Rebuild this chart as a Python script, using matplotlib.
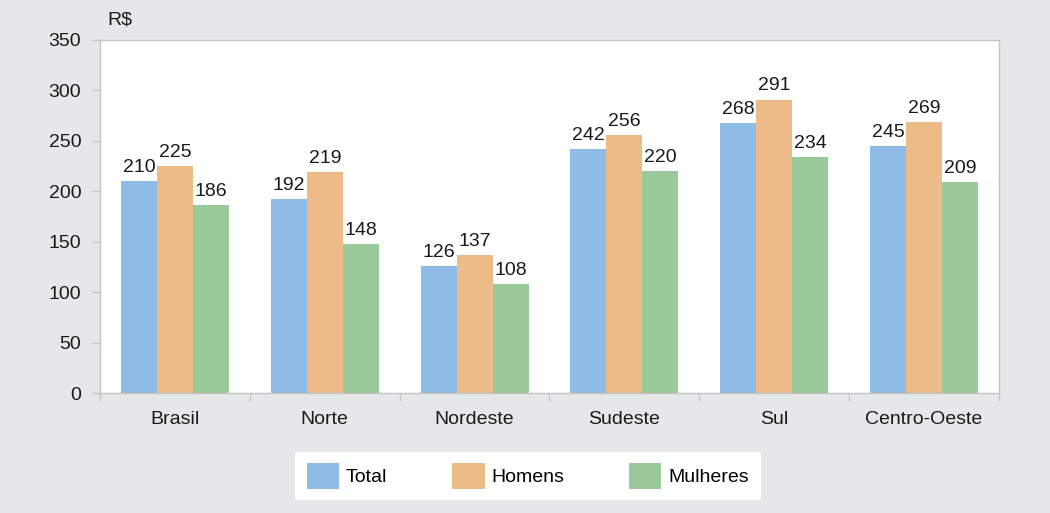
import numpy as np
import matplotlib.pyplot as plt

regioes = ["Brasil", "Norte", "Nordeste", "Sudeste", "Sul", "Centro-Oeste"]
total = [210, 192, 126, 242, 268, 245]
homens = [225, 219, 137, 256, 291, 269]
mulheres = [186, 148, 108, 220, 234, 209]

series = ["Total", "Homens", "Mulheres"]
cores = ["#8fbce6", "#ecbb87", "#9ac99c"]
fundo = "#e6e7e9"
borda = "#c4c4c4"
fs = 14

plt.rcParams['font.family'] = ['Liberation Sans', 'DejaVu Sans']

fig = plt.figure(figsize=(10.5, 5.13), dpi=100, facecolor=fundo)
ax = fig.add_axes([100/1050, 1-393/513, 899/1050, 353/513])
ax.set_facecolor("white")

x = np.arange(len(regioes))
w = 0.24
for i, (vals, cor, nome) in enumerate(zip([total, homens, mulheres], cores, series)):
    pos = x + (i - 1) * w
    bars = ax.bar(pos, vals, w, color=cor, label=nome)
    for b, v in zip(bars, vals):
        ax.text(b.get_x() + b.get_width()/2, v + 5, str(v), ha="center", va="bottom",
                fontsize=fs, color="#1a1a1a")

ax.set_xlim(-0.5, len(regioes) - 0.5)
ax.set_ylim(0, 350)
ax.set_yticks(range(0, 351, 50))
ax.tick_params(axis="y", labelsize=fs, colors=borda, labelcolor="#1a1a1a", length=6, width=1, pad=7.5)
ax.set_xticks(x)
ax.set_xticklabels(regioes)
ax.set_xticks(np.arange(-0.5, len(regioes)), minor=True)
ax.tick_params(axis="x", which="major", length=0, labelsize=fs, labelcolor="#1a1a1a", pad=13)
ax.tick_params(axis="x", which="minor", length=6, width=1, colors=borda)
for s in ax.spines.values():
    s.set_color(borda)
    s.set_linewidth(1)

fig.text(107/1050, 1-20/513, "R$", fontsize=fs, color="#1a1a1a", ha="left", va="center")

leg = fig.legend(loc="center", bbox_to_anchor=(528/1050, 1-476/513), ncol=3, fontsize=fs,
                 frameon=True, fancybox=False, edgecolor="white", facecolor="white", framealpha=1,
                 handlelength=1.65, handleheight=1.65, columnspacing=3.35, handletextpad=0.35,
                 borderpad=0.6, borderaxespad=0)
leg.get_frame().set_linewidth(0)

fig.savefig("out.png", dpi=100, facecolor=fundo)
